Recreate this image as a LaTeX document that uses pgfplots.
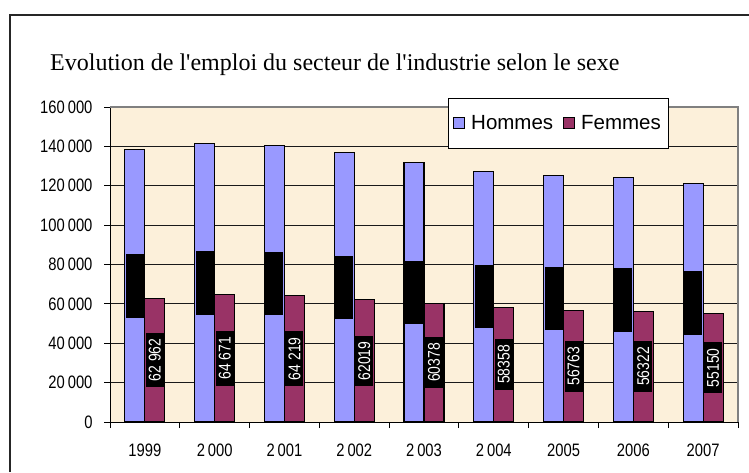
\documentclass[border=0pt]{standalone}
\usepackage{pgfplots}
\pgfplotsset{compat=1.18}
\usepackage{pgfplotstable}
\usepackage{fontspec}
\setmainfont{Liberation Serif}
\newfontfamily\arialn[FakeStretch=0.82]{Liberation Sans}
\newfontfamily\arialf{Liberation Sans}
\definecolor{hom}{HTML}{9999FF}
\definecolor{fem}{HTML}{993366}
\definecolor{bg}{HTML}{FCF0DA}

\pgfplotstableread[col sep=comma]{
x,h,f,hl,fl
0,138200,62962,138 200,62 962
1,141300,64671,141 300,64 671
2,140500,64219,140 500,64 219
3,136700,62019,136 700,62019
4,131800,60378,131 800,60378
5,127300,58358,127 300,58358
6,125400,56763,125 400,56763
7,124100,56322,124 100,56322
8,121000,55150,121 000,55150
}\data

\begin{document}
\begin{tikzpicture}[x=1pt,y=1pt]
\useasboundingbox (0,0) rectangle (749,-472);
\draw[line width=1.3pt, black!85] (10,-472) -- (10,-15) -- (749,-15);
\node[anchor=base west, font=\fontsize{24}{24}\selectfont, inner sep=0pt] at (50,-70)
  {Evolution de l\textquotesingle emploi du secteur de l\textquotesingle industrie selon le sexe};
\begin{axis}[
  at={(110pt,-422pt)}, anchor=south west,
  scale only axis, width=628pt, height=315pt,
  xmin=-0.5, xmax=8.5, ymin=0, ymax=160000,
  scaled y ticks=false,
  axis x line*=bottom, axis y line*=left,
  axis line style={line width=1pt, black},
  axis background/.style={fill=bg},
  ymajorgrids, grid style={line width=0.9pt, black!90},
  ytick={0,20000,...,160000},
  yticklabels={0,20\,000,40\,000,60\,000,80\,000,100\,000,120\,000,140\,000,160\,000},
  xtick={-0.5,0.5,...,8.5}, xticklabels={},
  extra x ticks={0,1,...,8},
  extra x tick labels={1999,2\,000,2\,001,2\,002,2\,003,2\,004,2005,2006,2007},
  extra x tick style={major tick length=0pt, grid=none},
  tick align=outside, major tick length=6pt,
  tick style={line width=1pt, black},
  ticklabel style={font=\arialn\fontsize{18}{18}\selectfont},
  yticklabel style={xshift=-8pt},
  xticklabel style={yshift=-18pt},
  legend style={at={(axis description cs:0.538,1.0286)}, anchor=north west,
    draw=black, fill=white, line width=0.8pt,
    font=\arialf\fontsize{20.5}{20.5}\selectfont, inner xsep=5pt, inner ysep=15pt,
    /tikz/every even column/.append style={column sep=8pt}},
  legend columns=2,
  clip=false,
]
\addplot[ybar, bar width=20pt, bar shift=-10pt, fill=hom, draw=black, line width=1.1pt,
  legend image code/.code={\draw[fill=hom,draw=black,line width=0.8pt] (0pt,-5.5pt) rectangle (11pt,5.5pt); \path (15pt,0pt);}]
  table[x=x,y=h] {\data};
\addlegendentry{Hommes}
\addplot[ybar, bar width=20pt, bar shift=10pt, fill=fem, draw=black, line width=1.1pt,
  legend image code/.code={\draw[fill=fem,draw=black,line width=0.8pt] (0pt,-5.5pt) rectangle (11pt,5.5pt); \path (15pt,0pt);}]
  table[x=x,y=f] {\data};
\addlegendentry{Femmes}
\addplot[draw=none, mark=none, forget plot, nodes near coords, point meta=explicit symbolic,
  nodes near coords style={xshift=-10pt, anchor=center, rotate=90, fill=black, text=black,
    font=\arialn\fontsize{17}{17}\selectfont, inner xsep=6.5pt, inner ysep=3pt}]
  table[x=x, y expr=\thisrow{h}/2, meta=hl] {\data};
\addplot[draw=none, mark=none, forget plot, nodes near coords, point meta=explicit symbolic,
  nodes near coords style={xshift=10pt, anchor=center, rotate=90, fill=black, text=white,
    font=\arialn\fontsize{17}{17}\selectfont, inner xsep=6pt, inner ysep=3pt}]
  table[x=x, y expr=\thisrow{f}/2, meta=fl] {\data};
\draw[line width=1.6pt, black!50] (rel axis cs:0,1) -- (rel axis cs:1,1) -- (rel axis cs:1,0);
\end{axis}
\end{tikzpicture}
\end{document}
